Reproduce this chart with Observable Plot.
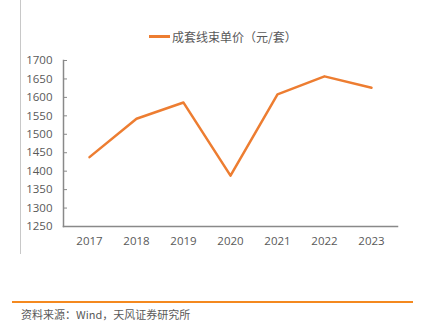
<!DOCTYPE html>
<html><head><meta charset="utf-8">
<script src="https://cdn.jsdelivr.net/npm/d3@7"></script>
<script src="https://cdn.jsdelivr.net/npm/@observablehq/plot@0.6"></script>
<style>
body{margin:0;background:#fff;font-family:"Open Sans","Noto Sans CJK SC",sans-serif;}
#wrap{position:relative;width:422px;height:330px;overflow:hidden;}
#vline{position:absolute;left:20px;top:0;width:1px;height:254px;background:#c8c8c8;}
#legend{position:absolute;top:28px;left:149px;font-size:12px;color:#595959;display:flex;align-items:center;white-space:nowrap;font-family:"Noto Sans CJK SC",sans-serif;}
#legend .sw{display:inline-block;width:21px;height:3px;background:#ED7D31;margin-right:2px;}
#chart{position:absolute;top:48px;left:0;}
#hr{position:absolute;left:12px;top:301px;width:401px;height:2px;background:#F4891F;}
#cap{position:absolute;left:21px;top:306px;font-size:11px;color:#595959;font-family:"Noto Sans CJK SC",sans-serif;}
</style></head>
<body>
<div id="wrap">
  <div id="vline"></div>
  <div id="legend"><span class="sw"></span><span id="legtext"></span></div>
  <div id="chart"></div>
  <div id="hr"></div>
  <div id="cap"></div>
</div>
<script>
const years = ["2017","2018","2019","2020","2021","2022","2023"];
const prices = [1438, 1542, 1586, 1388, 1608, 1657, 1626];
const yTicks = [1250,1300,1350,1400,1450,1500,1550,1600,1650,1700];
const seriesName = "成套线束单价（元/套）";
const caption = "资料来源：Wind，天风证券研究所";

const data = years.map((y,i)=>({year:y, value:prices[i]}));
document.getElementById("legtext").textContent = seriesName;
document.getElementById("cap").textContent = caption;

const axisColor = "#898989";
const chart = Plot.plot({
  width: 422,
  height: 215,
  marginLeft: 63,
  marginRight: 25,
  marginTop: 12,
  marginBottom: 37,
  style: {fontSize: "11.5px", color: "#595959", fontFamily: "'Open Sans', sans-serif", background: "transparent"},
  x: {type: "point", domain: years, padding: 0.5, label: null},
  y: {domain: [1250, 1700], ticks: yTicks, label: null},
  marks: [
    Plot.axisY({ticks: yTicks, tickFormat: "d", tickSize: -4, tickPadding: 15, stroke: axisColor, strokeOpacity: 1, fill: "#595959", label: null}),
    Plot.axisX({tickSize: 0, tickPadding: 10, fill: "#595959", label: null}),
    Plot.frame({anchor: "left", stroke: axisColor, strokeWidth: 1.5}),
    Plot.frame({anchor: "bottom", stroke: axisColor, strokeWidth: 1.5}),
    Plot.line(data, {x: "year", y: "value", stroke: "#ED7D31", strokeWidth: 2.5})
  ]
});
document.getElementById("chart").appendChild(chart);
</script>
</body></html>
